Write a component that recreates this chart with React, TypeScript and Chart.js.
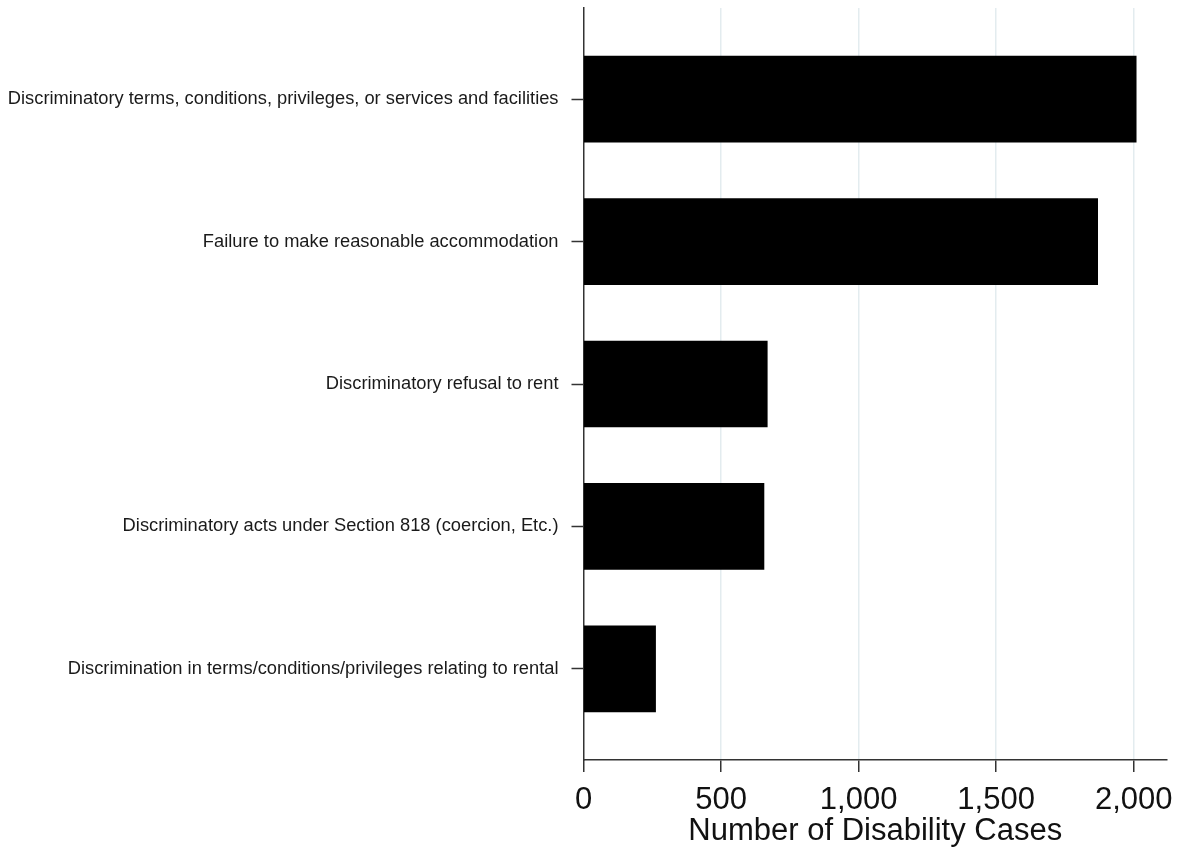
import React, { useEffect, useRef } from "react";
import { Chart, registerables } from "chart.js";

Chart.register(...registerables);

const categories: string[] = [
  "Discriminatory terms, conditions, privileges, or services and facilities",
  "Failure to make reasonable accommodation",
  "Discriminatory refusal to rent",
  "Discriminatory acts under Section 818 (coercion, Etc.)",
  "Discrimination in terms/conditions/privileges relating to rental",
];
const cases: number[] = [2009, 1869, 668, 656, 262];
const xTicks: number[] = [0, 500, 1000, 1500, 2000];
const xTitle = "Number of Disability Cases";

const FONT = "'Liberation Sans', Arial, sans-serif";

export default function App() {
  const ref = useRef<HTMLCanvasElement | null>(null);

  useEffect(() => {
    document.body.style.margin = "0";
    const canvas = ref.current;
    if (!canvas) return;
    const chart = new Chart(canvas, {
      type: "bar",
      data: {
        datasets: [
          {
            data: cases.map((v, i) => ({ x: v, y: i })),
            backgroundColor: "#000000",
            borderWidth: 0,
            barThickness: 86,
          },
        ],
      },
      options: {
        indexAxis: "y",
        animation: false,
        responsive: false,
        devicePixelRatio: 1,
        layout: { padding: { top: 8, right: 11, left: 0, bottom: 0 } },
        plugins: { legend: { display: false }, tooltip: { enabled: false } },
        scales: {
          y: {
            type: "linear",
            reverse: true,
            offset: false,
            min: -0.64,
            max: 4.64,
            afterBuildTicks: (scale: any) => {
              scale.ticks = categories.map((_, i) => ({ value: i }));
            },
            afterFit: (scale: any) => {
              scale.width = 583.5;
              scale.paddingTop = 0;
              scale.paddingBottom = 0;
            },
            grid: {
              display: true,
              offset: false,
              drawOnChartArea: false,
              drawTicks: true,
              tickLength: 12,
              tickColor: "#333333",
              tickWidth: 1.5,
            },
            border: { display: true, color: "#333333", width: 1.5 },
            ticks: {
              padding: 13,
              color: "#1a1a1a",
              font: { family: FONT, size: 18.3 },
              callback: (v: any) => {
                const i = Number(v);
                return Number.isInteger(i) && categories[i] !== undefined ? categories[i] : "";
              },
            },
          },
          x: {
            type: "linear",
            min: 0,
            max: 2121,
            afterBuildTicks: (scale: any) => {
              scale.ticks = xTicks.map((v) => ({ value: v }));
            },
            afterFit: (scale: any) => {
              scale.height = 88;
              scale.paddingLeft = 0;
              scale.paddingRight = 0;
            },
            grid: {
              display: true,
              drawOnChartArea: true,
              drawTicks: true,
              tickLength: 12,
              color: (ctx: any) => (ctx.tick && ctx.tick.value === 0 ? "rgba(0,0,0,0)" : "#e3ecef"),
              lineWidth: 1.5,
              tickColor: "#333333",
              tickWidth: 1.5,
            },
            border: { display: true, color: "#333333", width: 1.5 },
            ticks: {
              padding: 10,
              color: "#111111",
              font: { family: FONT, size: 31 },
              maxRotation: 0,
              callback: (v: any) => Number(v).toLocaleString("en-US"),
            },
            title: {
              display: true,
              text: xTitle,
              color: "#111111",
              font: { family: FONT, size: 31 },
              padding: { top: 0, bottom: -2 },
            },
          },
        },
      },
    });
    return () => chart.destroy();
  }, []);

  return (
    <div style={{ position: "absolute", left: 0, top: 0, width: 1178, height: 848, background: "#fff" }}>
      <canvas ref={ref} width={1178} height={848} style={{ width: 1178, height: 848, display: "block" }} />
    </div>
  );
}
